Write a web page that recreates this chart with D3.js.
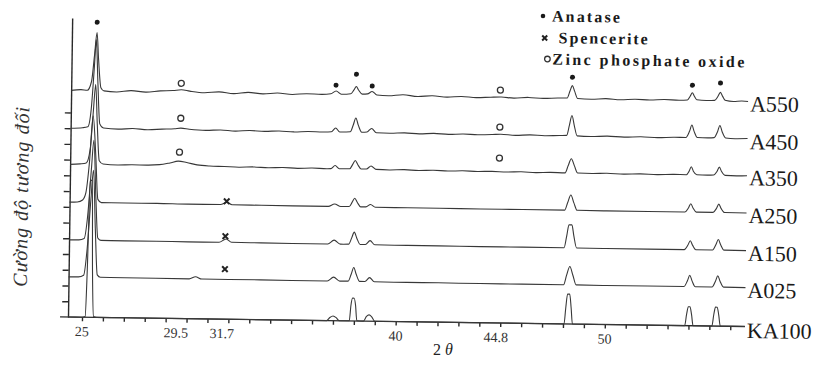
<!DOCTYPE html>
<html>
<head>
<meta charset="utf-8">
<script src="https://cdn.jsdelivr.net/npm/d3@7"></script>
<style>
  body { margin: 0; background: #fff; }
  svg { display: block; }
  .trace { fill: none; stroke: #383838; stroke-width: 1.1; stroke-linejoin: round; }
  .axis line, .axis path { stroke: #2a2a2a; stroke-width: 1.4; }
  .tickLabel { font-family: "Liberation Serif", "Times New Roman", serif; font-size: 14px; fill: #333; }
  .seriesLabel { font-family: "Liberation Serif", "Times New Roman", serif; font-size: 22px; fill: #1a1a1a; }
  .legendText { font-family: "Liberation Serif", "Times New Roman", serif; font-size: 16px; font-weight: bold; fill: #1a1a1a; }
</style>
</head>
<body>
<script>
//series names, top to bottom, and vertical offsets (counts)
var seriesNames = ["A550", "A450", "A350", "A250", "A150", "A025", "KA100"];
var seriesOffsets = [1440, 1200, 970, 730, 490, 255, 0];

//traces: [2theta, counts above baseline]
var a550 = [[24.33,0],[24.8,6],[25.1,2],[25.3,60],[25.42,220],[25.53,370],[25.62,200],[25.75,20],[25.9,0],[26.5,-6],[27.2,4],[27.9,-4],[28.6,5],[29.2,8],[29.6,14],[30.0,6],[30.7,-3],[31.4,4],[32.1,-6],[32.8,3],[33.5,-5],[34.2,2],[34.9,-6],[35.6,0],[36.3,-3],[36.75,2],[37.0,20],[37.25,0],[37.7,4],[37.85,28],[37.96,50],[38.07,28],[38.25,2],[38.5,4],[38.72,20],[38.95,-2],[39.5,-6],[40.2,2],[40.9,-8],[41.6,-2],[42.3,-9],[43.0,-4],[43.7,-10],[44.4,-6],[44.9,-4],[45.5,-10],[46.2,-4],[46.9,-9],[47.6,-5],[48.05,-4],[48.18,40],[48.29,75],[48.4,40],[48.55,-6],[49.2,-10],[49.9,-5],[50.6,-11],[51.3,-6],[52.0,-10],[52.7,-5],[53.4,-9],[53.8,-6],[53.93,18],[54.03,40],[54.13,18],[54.25,-4],[54.7,-8],[55.1,-6],[55.26,20],[55.37,45],[55.48,20],[55.6,-5],[56.0,-12],[56.4,-8],[56.7,-10]];
var a450 = [[24.33,0],[24.9,4],[25.15,10],[25.3,120],[25.42,380],[25.5,565],[25.6,300],[25.72,30],[25.9,4],[26.6,-2],[27.3,3],[28.0,-3],[28.7,2],[29.3,6],[29.6,10],[30.0,4],[30.8,-2],[31.5,2],[32.2,-4],[32.9,1],[33.6,-3],[34.3,1],[35.0,-4],[35.7,0],[36.4,-2],[36.8,0],[37.0,25],[37.2,0],[37.7,2],[37.84,45],[37.96,90],[38.08,45],[38.25,0],[38.5,2],[38.72,25],[38.95,-2],[39.6,-4],[40.3,0],[41.0,-5],[41.7,-1],[42.4,-6],[43.1,-2],[43.8,-6],[44.5,-3],[44.9,0],[45.6,-6],[46.3,-2],[47.0,-6],[47.7,-3],[48.05,-2],[48.17,60],[48.29,125],[48.41,60],[48.55,-4],[49.2,-7],[50.0,-3],[50.8,-8],[51.6,-4],[52.4,-8],[53.2,-4],[53.75,-5],[53.92,35],[54.03,75],[54.14,35],[54.3,-4],[54.8,-5],[55.1,-3],[55.26,35],[55.37,75],[55.48,35],[55.65,-4],[56.1,-8],[56.7,-6]];
var a350 = [[24.33,0],[24.8,4],[25.1,10],[25.28,100],[25.4,330],[25.5,510],[25.6,260],[25.72,25],[25.9,5],[26.6,0],[27.3,3],[28.0,2],[28.6,6],[29.1,18],[29.5,30],[29.9,22],[30.4,8],[31.0,2],[31.7,0],[32.4,-3],[33.1,0],[33.8,-4],[34.5,-1],[35.2,-5],[35.9,-2],[36.6,-5],[36.8,-4],[37.0,16],[37.2,-4],[37.7,-3],[37.84,25],[37.96,50],[38.08,25],[38.25,-4],[38.5,-3],[38.72,16],[38.95,-5],[39.6,-7],[40.3,-4],[41.0,-8],[41.7,-5],[42.4,-9],[43.1,-6],[43.8,-9],[44.5,-7],[45.2,-10],[45.9,-7],[46.6,-11],[47.3,-8],[48.0,-10],[48.14,35],[48.29,80],[48.44,35],[48.6,-10],[49.3,-12],[50.0,-9],[50.8,-13],[51.6,-10],[52.4,-13],[53.2,-10],[53.8,-11],[53.93,12],[54.03,40],[54.13,12],[54.3,-10],[54.8,-12],[55.1,-10],[55.26,12],[55.37,40],[55.48,12],[55.65,-12],[56.2,-14],[56.7,-12]];
var a250 = [[24.33,0],[24.7,2],[24.95,15],[25.1,60],[25.25,250],[25.4,550],[25.55,300],[25.68,20],[25.85,0],[27,-1],[28.5,0],[30,-2],[31.55,-2],[31.84,12],[32.1,-2],[33.5,-3],[35,-4],[36.7,-4],[37.0,12],[37.3,-4],[37.7,-3],[37.84,25],[37.96,50],[38.08,25],[38.25,-4],[38.5,-4],[38.72,12],[38.95,-5],[40.5,-6],[42,-6],[44,-7],[46,-7],[48.0,-7],[48.14,40],[48.29,90],[48.44,40],[48.6,-7],[50,-8],[52,-8],[53.75,-8],[53.92,18],[54.03,45],[54.14,18],[54.3,-8],[55.1,-8],[55.26,18],[55.37,45],[55.48,18],[55.65,-8],[56.7,-9]];
var a150 = [[24.33,0],[24.8,1],[25.05,10],[25.2,150],[25.35,450],[25.45,635],[25.58,280],[25.7,15],[25.85,0],[27,-1],[28.5,-1],[30,-2],[31.5,-2],[31.84,20],[32.1,-1],[33.5,-2],[35,-3],[36.7,-3],[37.0,22],[37.3,-3],[37.7,-2],[37.84,38],[37.96,75],[38.08,38],[38.25,-3],[38.5,-3],[38.72,22],[38.95,-4],[40.5,-5],[42,-5],[44,-6],[46,-6],[48.0,-6],[48.12,70],[48.22,140],[48.36,140],[48.46,70],[48.6,-6],[50,-7],[52,-7],[53.75,-7],[53.92,22],[54.03,50],[54.14,22],[54.3,-7],[55.1,-7],[55.26,28],[55.37,60],[55.48,28],[55.65,-7],[56.7,-8]];
var a025 = [[24.33,0],[24.8,1],[25.05,12],[25.2,180],[25.35,500],[25.45,680],[25.58,300],[25.7,15],[25.85,0],[27,-1],[28.5,-1],[30.1,-2],[30.4,12],[30.7,-2],[32,-2],[33.5,-2],[35,-3],[36.7,-3],[37.0,22],[37.3,-3],[37.7,-2],[37.84,42],[37.96,85],[38.08,42],[38.25,-3],[38.5,-3],[38.72,22],[38.95,-4],[40.5,-5],[42,-5],[44,-6],[46,-6],[48.0,-6],[48.14,55],[48.29,110],[48.44,55],[48.6,-6],[50,-7],[52,-7],[53.75,-7],[53.92,30],[54.03,65],[54.14,30],[54.3,-7],[55.1,-7],[55.26,30],[55.37,65],[55.48,30],[55.65,-7],[56.7,-8]];
var ka100 = [[24.33,0],[25.0,0],[25.15,5],[25.22,300],[25.3,870],[25.4,870],[25.47,300],[25.55,5],[25.7,0],[27,0],[30,0],[33,0],[36.7,0],[36.85,20],[37.0,30],[37.15,20],[37.3,0],[37.78,2],[37.85,100],[37.92,145],[38.0,145],[38.07,100],[38.14,2],[38.45,0],[38.6,30],[38.72,40],[38.84,30],[39.0,0],[42,0],[45,0],[48.05,0],[48.12,100],[48.2,190],[48.3,190],[48.38,100],[48.45,0],[51,0],[53.82,0],[53.9,70],[53.98,120],[54.06,120],[54.14,70],[54.22,0],[55.12,0],[55.2,70],[55.28,120],[55.36,120],[55.44,70],[55.52,0],[56.7,0]];
var traces = [a550, a450, a350, a250, a150, a025, ka100];

//phase markers: [2theta, absolute counts]
var anataseMarks = [[25.53,1875],[36.99,1497],[37.96,1568],[38.72,1494],[48.29,1568],[54.03,1528],[55.37,1544]];
var spenceriteMarks = [[31.84,749],[31.8,527],[31.8,318]];
var zincMarks = [[29.59,1495],[29.59,1273],[29.55,1057],[44.85,1480],[44.85,1245],[44.85,1048]];

//axis ticks
var xMinorTicks = d3.range(24, 57, 1);
var xLabelTicks = [25, 29.5, 31.7, 40, 44.8, 50];
var yTicks = d3.range(100, 1301, 100);

var legendItems = ["Anatase", "Spencerite", "Zinc phosphate oxide"];

var width = 817, height = 385;

var xScale = d3.scaleLinear().domain([24.33, 56.7]).range([68, 745]);
var yScale = d3.scaleLinear().domain([0, 1900]).range([317, 18]);

var svg = d3.select("body").append("svg")
  .attr("width", width)
  .attr("height", height);

svg.append("rect").attr("width", width).attr("height", height).attr("fill", "#fff");

//the scanned figure sits slightly tilted
var plot = svg.append("g")
  .attr("transform", "rotate(0.8," + xScale(24.33) + "," + yScale(0) + ")");

//y axis (ticks only)
plot.append("g")
  .attr("class", "axis")
  .attr("transform", "translate(" + xScale(24.33) + ",0)")
  .call(d3.axisLeft(yScale).tickValues(yTicks).tickSize(6).tickSizeOuter(0).tickFormat(""));

//x axis
var xAxisG = plot.append("g")
  .attr("class", "axis")
  .attr("transform", "translate(0," + yScale(0) + ")");
xAxisG.call(d3.axisBottom(xScale).tickValues(xMinorTicks.filter(function(d){ return d >= 24.33; })).tickSize(4).tickFormat(""));
xAxisG.select(".domain").remove();
xAxisG.append("line")
  .attr("x1", xScale(23.95))
  .attr("x2", xScale(56.7))
  .attr("y1", 0).attr("y2", 0);

plot.selectAll(".tickLabel")
  .data(xLabelTicks)
  .enter()
  .append("text")
  .attr("class", "tickLabel")
  .attr("x", function(d){ return xScale(d); })
  .attr("y", yScale(0) + 19)
  .attr("text-anchor", "middle")
  .text(function(d){ return d; });

//traces
var line = d3.line()
  .x(function(d){ return xScale(d[0]); })
  .y(function(d){ return d[1]; })
  .curve(d3.curveMonotoneX);

traces.forEach(function(tr, i){
  var pts = tr.map(function(p){ return [p[0], yScale(p[1] + seriesOffsets[i])]; });
  plot.append("path")
    .attr("class", "trace")
    .attr("d", line(pts));

  plot.append("text")
    .attr("class", "seriesLabel")
    .attr("x", xScale(56.7) + 2)
    .attr("y", yScale(seriesOffsets[i]) + 4)
    .attr("dominant-baseline", "central")
    .text(seriesNames[i]);
});

//markers
plot.selectAll(".anatase")
  .data(anataseMarks)
  .enter()
  .append("circle")
  .attr("class", "anatase")
  .attr("cx", function(d){ return xScale(d[0]); })
  .attr("cy", function(d){ return yScale(d[1]); })
  .attr("r", 2.5)
  .attr("fill", "#1a1a1a");

plot.selectAll(".zinc")
  .data(zincMarks)
  .enter()
  .append("circle")
  .attr("class", "zinc")
  .attr("cx", function(d){ return xScale(d[0]); })
  .attr("cy", function(d){ return yScale(d[1]); })
  .attr("r", 3)
  .attr("fill", "none")
  .attr("stroke", "#333")
  .attr("stroke-width", 1.3);

function crossPath(s){
  return "M" + (-s) + "," + (-s) + "L" + s + "," + s + "M" + (-s) + "," + s + "L" + s + "," + (-s);
}

plot.selectAll(".spencerite")
  .data(spenceriteMarks)
  .enter()
  .append("path")
  .attr("class", "spencerite")
  .attr("transform", function(d){ return "translate(" + xScale(d[0]) + "," + yScale(d[1]) + ")"; })
  .attr("d", crossPath(2.8))
  .attr("stroke", "#222")
  .attr("stroke-width", 2);

//axis titles
svg.append("text")
  .attr("transform", "translate(28,197) rotate(-89.2)")
  .attr("text-anchor", "middle")
  .attr("textLength", 180)
  .style("font-family", "'Liberation Serif', 'Times New Roman', serif")
  .style("font-style", "italic")
  .style("font-size", "20px")
  .style("fill", "#333")
  .text("Cường độ tương đối");

var tt = svg.append("text")
  .attr("x", 433)
  .attr("y", 355)
  .style("font-family", "'Liberation Serif', 'Times New Roman', serif")
  .style("font-size", "16px")
  .style("fill", "#222");
tt.append("tspan").text("2");
tt.append("tspan").attr("dx", 4).style("font-style", "italic").text("θ");

//legend
var legend = svg.append("g")
  .attr("transform", "translate(545,16) rotate(0.8)");

legend.append("circle").attr("cx", -2).attr("cy", 0).attr("r", 2.3).attr("fill", "#1a1a1a");
legend.append("path").attr("transform", "translate(0,22)").attr("d", crossPath(2.5))
  .attr("stroke", "#222").attr("stroke-width", 2);
legend.append("circle").attr("cx", 3).attr("cy", 43).attr("r", 2.8)
  .attr("fill", "none").attr("stroke", "#333").attr("stroke-width", 1.3);

var legendX = [7, 14, 8];
var legendLen = [68, 89, 192];
legend.selectAll(".legendText")
  .data(legendItems)
  .enter()
  .append("text")
  .attr("class", "legendText")
  .attr("x", function(d, i){ return legendX[i]; })
  .attr("y", function(d, i){ return i * 21.5; })
  .attr("dominant-baseline", "central")
  .attr("textLength", function(d, i){ return legendLen[i]; })
  .text(function(d){ return d; });
</script>
</body>
</html>
